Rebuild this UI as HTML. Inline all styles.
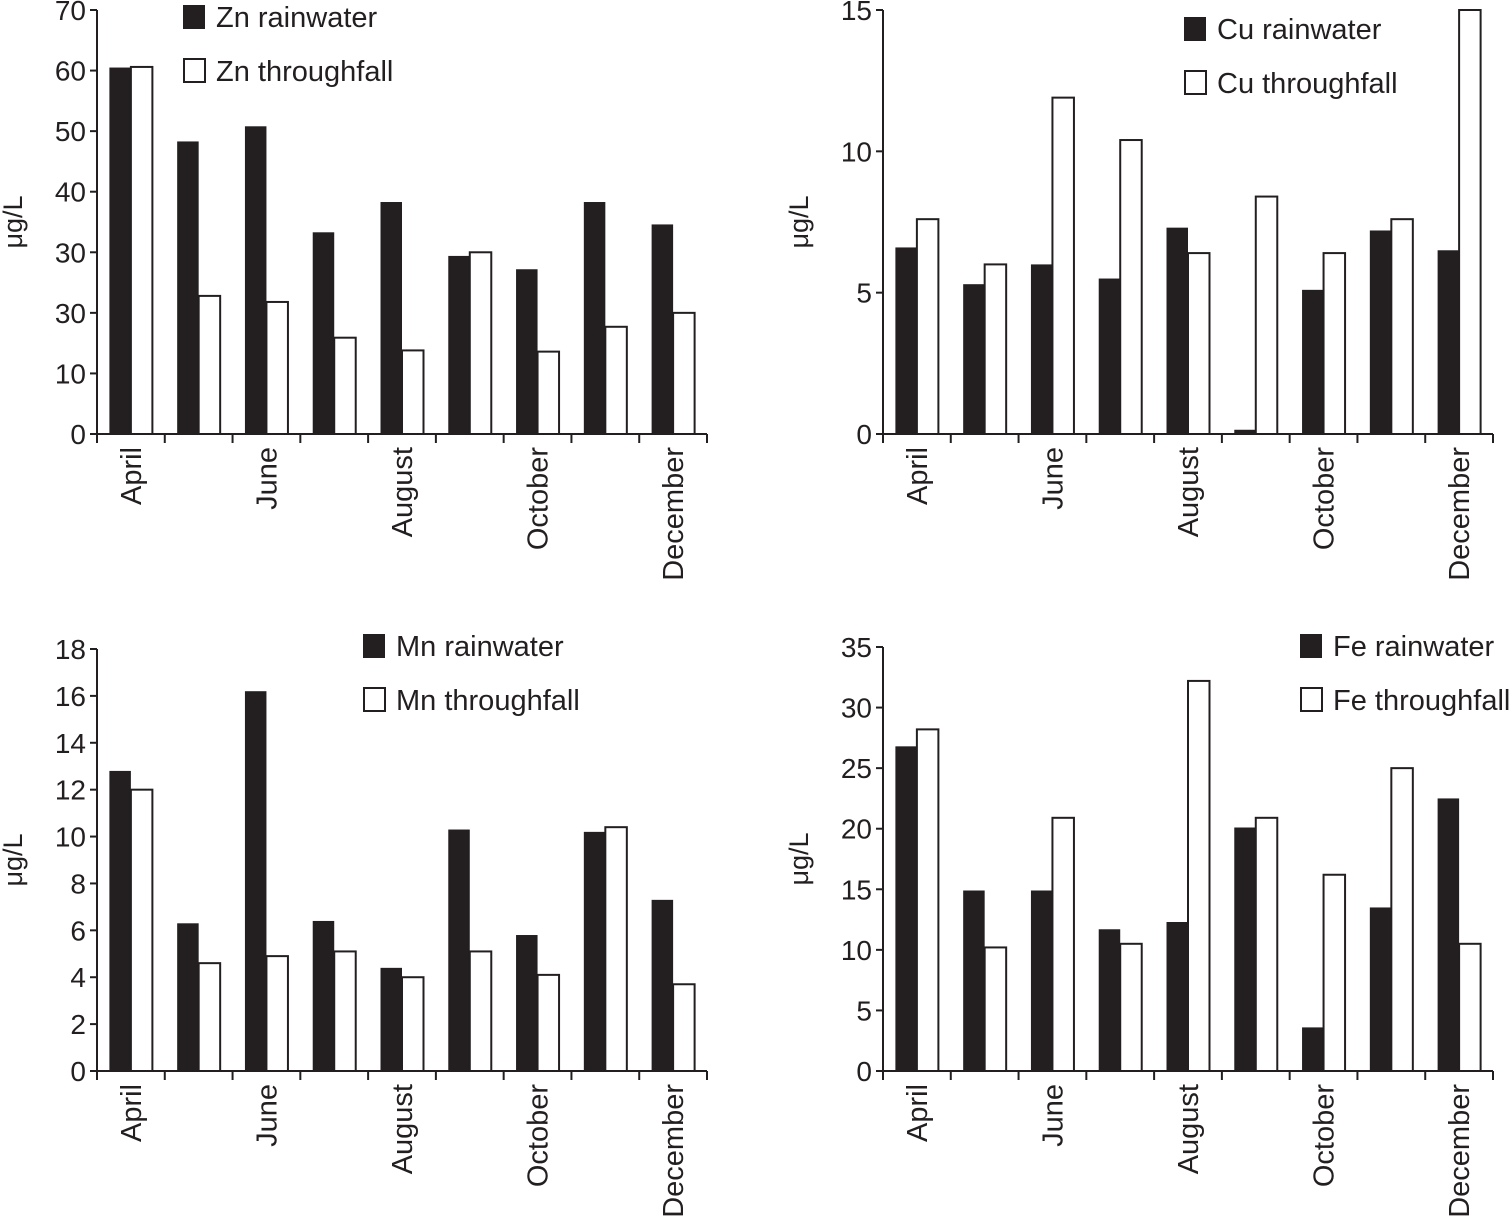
<!DOCTYPE html>
<html><head><meta charset="utf-8"><style>
html,body{margin:0;padding:0;background:#fff;}
svg text{font-family:"Liberation Sans",sans-serif;fill:#231f20;}
</style></head><body>
<svg id="s" width="1511" height="1218" xmlns="http://www.w3.org/2000/svg"></svg>
<script>
const months = ["April","May","June","July","August","September","October","November","December"];
const monthLabels = ["April","","June","","August","","October","","December"];
const znRain = [60.5,48.3,50.8,33.3,38.3,29.4,27.2,38.3,34.6];
const znThrough = [60.6,22.8,21.8,15.9,13.8,30.0,13.6,17.7,20.0];
const znTicks = ["0","10","30","30","40","50","60","70"];
const cuRain = [6.6,5.3,6.0,5.5,7.3,0.15,5.1,7.2,6.5];
const cuThrough = [7.6,6.0,11.9,10.4,6.4,8.4,6.4,7.6,15.0];
const cuTicks = ["0","5","10","15"];
const mnRain = [12.8,6.3,16.2,6.4,4.4,10.3,5.8,10.2,7.3];
const mnThrough = [12.0,4.6,4.9,5.1,4.0,5.1,4.1,10.4,3.7];
const mnTicks = ["0","2","4","6","8","10","12","14","16","18"];
const feRain = [26.8,14.9,14.9,11.7,12.3,20.1,3.6,13.5,22.5];
const feThrough = [28.2,10.2,20.9,10.5,32.2,20.9,16.2,25.0,10.5];
const feTicks = ["0","5","10","15","20","25","30","35"];

const NS="http://www.w3.org/2000/svg";
const svg=document.getElementById('s');
function mk(tag,attrs,parent){const e=document.createElementNS(NS,tag);for(const k in attrs)e.setAttribute(k,attrs[k]);(parent||svg).appendChild(e);return e;}

function chart(cfg){
  const g=mk('g',{});
  
  
  const {x0,x1,y0,yTop,vmax,step}=cfg;
  const n=months.length, cw=(x1-x0)/n, bw=21.5;
  const y=v=>y0-(v/vmax)*(y0-yTop);
  const ax=mk('path',{d:`M${x0} ${yTop} V${y0} H${x1}`,stroke:'#231f20','stroke-width':2,fill:'none'},g);
  
  
  cfg.ticks.forEach((t,i)=>{
    const yy=y(i*step);
    mk('line',{x1:x0-7,x2:x0,y1:yy,y2:yy,stroke:'#231f20','stroke-width':2},g);
    const tx=mk('text',{x:x0-11,y:yy+10,'text-anchor':'end','font-size':28},g);
    tx.textContent=t;
    
    
  });
  for(let i=0;i<=n;i++){const xx=x0+i*cw;mk('line',{x1:xx,x2:xx,y1:y0,y2:y0+9,stroke:'#231f20','stroke-width':2},g);}
  months.forEach((m,i)=>{
    const cx=x0+(i+0.5)*cw;
    const r=mk('rect',{x:cx-bw,y:y(cfg.rain[i]),width:bw,height:y0-y(cfg.rain[i]),fill:'#231f20'},g);
    
    
    const w=mk('rect',{x:cx,y:y(cfg.through[i]),width:bw,height:y0-y(cfg.through[i]),fill:'#fff',stroke:'#231f20','stroke-width':2},g);
    
    
    if(monthLabels[i]){
      const t=mk('text',{x:0,y:0,'text-anchor':'end','font-size':29,transform:`translate(${cx+10},${y0+13}) rotate(-90)`},g);
      t.textContent=monthLabels[i];
      
      
    }
  });
  const yt=mk('text',{x:0,y:0,'text-anchor':'middle','font-size':27,transform:`translate(${x0-75},${(y0+yTop)/2}) rotate(-90)`},g);
  yt.textContent='μg/L';
  
  
  const L=cfg.legend;
  const s1=mk('rect',{x:L.x,y:L.y,width:22,height:24,fill:'#231f20'},g);
  
  
  const t1=mk('text',{x:L.x+33,y:L.y+22,'font-size':29},g);
  t1.textContent=cfg.el+' rainwater';
  
  
  const s2=mk('rect',{x:L.x+1,y:L.y+54,width:21,height:23,fill:'#fff',stroke:'#231f20','stroke-width':2},g);
  
  
  const t2=mk('text',{x:L.x+33,y:L.y+76,'font-size':29},g);
  t2.textContent=cfg.el+' throughfall';
  
  
}
chart({name:'zn-chart',el:'Zn',x0:97,x1:707,y0:434,yTop:10,vmax:70,step:10,ticks:znTicks,rain:znRain,through:znThrough,legend:{x:183,y:5}});
chart({name:'cu-chart',el:'Cu',x0:883,x1:1493,y0:434,yTop:10,vmax:15,step:5,ticks:cuTicks,rain:cuRain,through:cuThrough,legend:{x:1184,y:17}});
chart({name:'mn-chart',el:'Mn',x0:97,x1:707,y0:1071,yTop:649,vmax:18,step:2,ticks:mnTicks,rain:mnRain,through:mnThrough,legend:{x:363,y:634}});
chart({name:'fe-chart',el:'Fe',x0:883,x1:1493,y0:1071,yTop:647,vmax:35,step:5,ticks:feTicks,rain:feRain,through:feThrough,legend:{x:1300,y:634}});
</script>
</body></html>
